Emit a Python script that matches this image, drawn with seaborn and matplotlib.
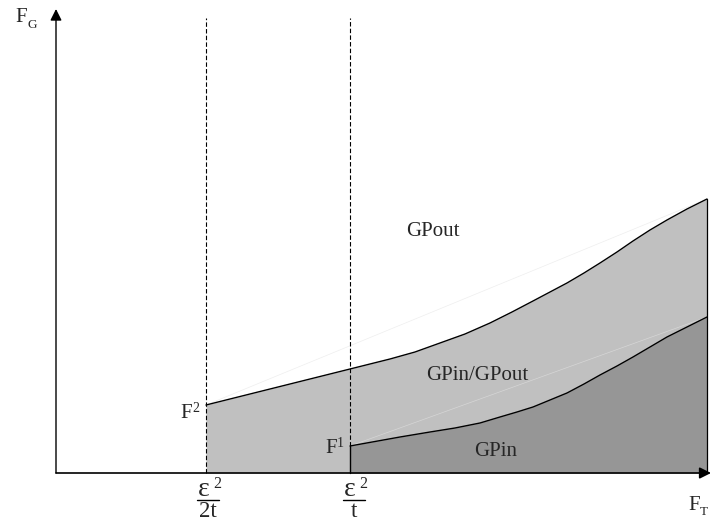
import matplotlib
matplotlib.use("Agg")
import matplotlib.pyplot as plt
import seaborn as sns

sns.set_style("white")
plt.rcParams["font.family"] = ["Liberation Serif", "DejaVu Serif"]

# Schematic data (F_T on x, F_G on y; arbitrary units)
x_half = 150          # eps^2 / 2t
x_full = 294          # eps^2 / t
x_end = 651

ft_upper = [150, 294, 334, 359, 384, 409, 434, 456, 477, 494, 511, 528, 544, 561, 577, 594, 611, 631, 651]
fg_upper = [68, 104, 114, 121, 130, 139, 150, 161, 172, 181, 190, 200, 210, 221, 232, 243, 253, 264, 274]

ft_lower = [294, 344, 374, 399, 424, 444, 461, 477, 494, 511, 528, 544, 561, 577, 594, 611, 631, 651]
fg_lower = [27, 36, 41, 45, 50, 56, 61, 66, 73, 80, 89, 98, 107, 116, 126, 136, 146, 156]

region_labels = ["GPout", "GPin/GPout", "GPin"]
region_pos = [(377, 242), (421, 97), (440, 22)]

light = "#c0c0c0"
dark = "#969696"

fig = plt.figure(figsize=(7.11, 5.22), dpi=100)
ax = fig.add_axes([0, 0, 1, 1])
ax.set_xlim(-56, 655)
ax.set_ylim(-49, 473)
ax.axis("off")

# filled regions
ax.fill_between(ft_upper, fg_upper, 0, color=light, lw=0, zorder=1)
ax.fill_between(ft_lower, fg_lower, 0, color=dark, lw=0, zorder=2)

# faint chords
ax.plot([ft_upper[0], ft_upper[-1]], [fg_upper[0], fg_upper[-1]],
        color="#eeeeee", lw=0.5, zorder=3)
ax.plot([ft_lower[0], ft_lower[-1]], [fg_lower[0], fg_lower[-1]],
        color="#d6d6d6", lw=0.5, zorder=3)

# boundary curves
sns.lineplot(x=ft_upper, y=fg_upper, ax=ax, color="black", lw=1.0, zorder=4)
sns.lineplot(x=ft_lower, y=fg_lower, ax=ax, color="black", lw=1.0, zorder=4)

# right edge and dark region left edge
ax.plot([x_end, x_end], [0, fg_upper[-1]], color="black", lw=0.9, zorder=4)
ax.plot([x_full, x_full], [0, fg_lower[0]], color="black", lw=1.0, zorder=4)

# dashed verticals
ax.plot([x_half, x_half], [0, 455], color="black", lw=0.8,
        linestyle=(0, (4, 2)), zorder=5)
ax.plot([x_full, x_full], [fg_lower[0], 455], color="black", lw=0.8,
        linestyle=(0, (4, 2)), zorder=5)

# axes with arrows
ax.annotate("", xy=(0, 464), xytext=(0, 0),
            arrowprops=dict(arrowstyle="-|>", color="black", lw=1.0,
                            mutation_scale=17, shrinkA=0, shrinkB=0), zorder=6)
ax.annotate("", xy=(655, 0), xytext=(0, 0),
            arrowprops=dict(arrowstyle="-|>", color="black", lw=1.2,
                            mutation_scale=17, shrinkA=0, shrinkB=0), zorder=6)

# axis labels
ax.text(-41, 451, "F", fontsize=15, ha="left", va="baseline")
ax.text(-29, 445, "G", fontsize=9.5, ha="left", va="baseline")
ax.text(632, -37, "F", fontsize=15, ha="left", va="baseline")
ax.text(644, -42, "T", fontsize=9.5, ha="left", va="baseline")

# region labels
for lab, (x, y) in zip(region_labels, region_pos):
    ax.text(x, y, lab, fontsize=15, ha="center", va="center", zorder=7)

# F2 and F1 labels
ax.text(136, 55, "F", fontsize=15, ha="right", va="baseline", zorder=7)
ax.text(136, 61, "2", fontsize=10, ha="left", va="baseline", zorder=7)
ax.text(281, 20, "F", fontsize=15, ha="right", va="baseline", zorder=7)
ax.text(281, 26, "1", fontsize=10, ha="left", va="baseline", zorder=7)

# fraction labels on the x axis
def frac(xc, denom, bar_half):
    ax.text(xc - 4, -23, "ε", fontsize=20, ha="center", va="baseline")
    ax.text(xc + 10, -15, "2", fontsize=11.5, ha="center", va="baseline")
    ax.plot([xc - bar_half, xc + bar_half], [-27, -27], color="black", lw=1.0)
    ax.text(xc, -44, denom, fontsize=16.5, ha="center", va="baseline")

frac(151.5, "2t", 11)
frac(297.5, "t", 11)

fig.savefig("out.png", dpi=100)
